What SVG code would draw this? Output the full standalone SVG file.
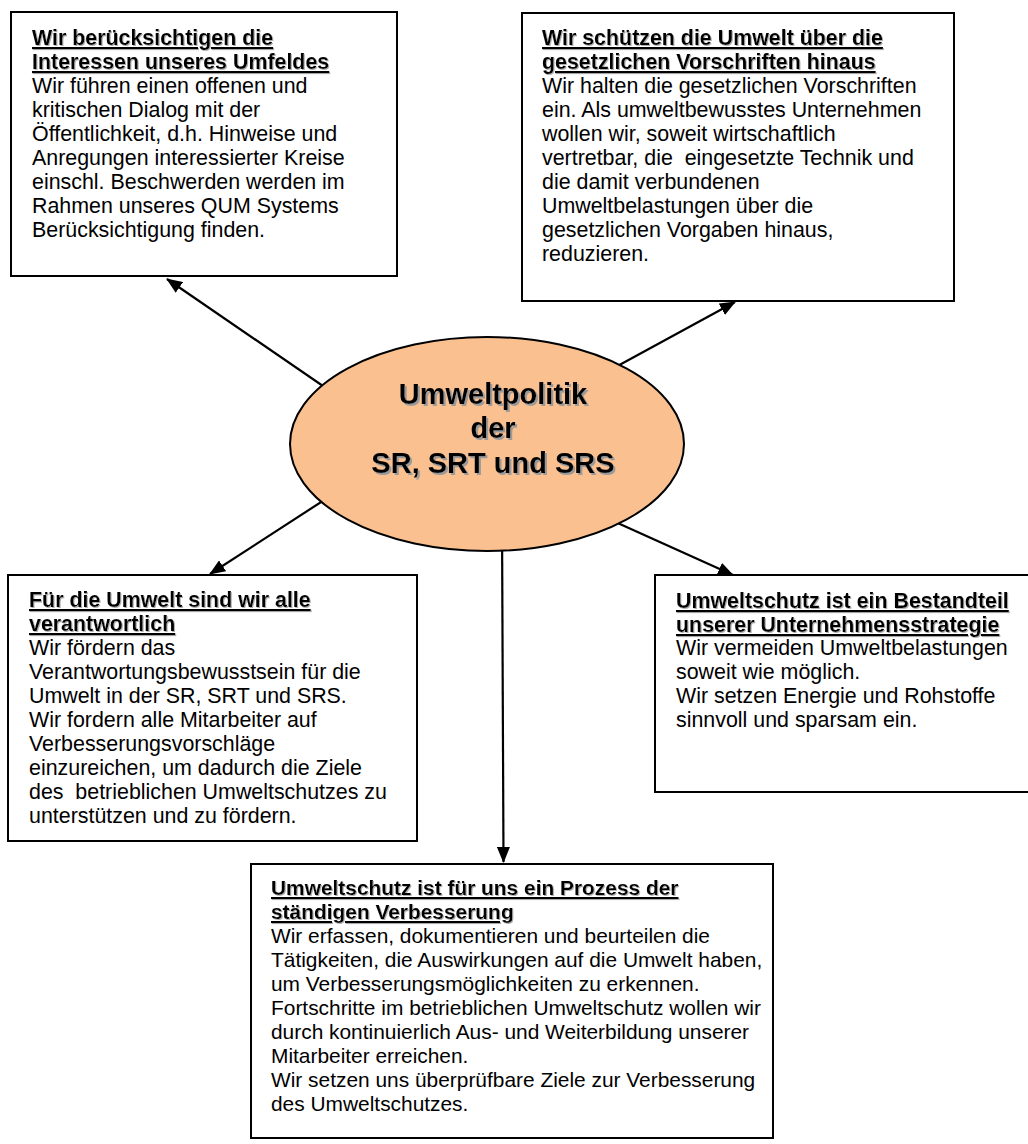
<svg xmlns="http://www.w3.org/2000/svg" width="1028" height="1144" viewBox="0 0 1028 1144">
<defs>
<style>
.box{fill:#fff;stroke:#000;stroke-width:2}
text{font-family:"Liberation Sans",Arial,Helvetica,sans-serif;font-size:21.4px;fill:#000;white-space:pre}
#box-prozess text{font-size:20.9px}
.t{font-weight:bold;text-decoration:underline;filter:url(#ts)}
.c{font-weight:bold;font-size:29px;text-anchor:middle;filter:url(#cs)}
.conn{stroke:#000;stroke-width:2.2;fill:none;marker-end:url(#ah)}
</style>
<marker id="ah" markerUnits="userSpaceOnUse" markerWidth="16" markerHeight="13" refX="15" refY="6.5" orient="auto">
<path d="M0,0 L16,6.5 L0,13 z" fill="#000"/>
</marker>
<filter id="cs" x="-10%" y="-30%" width="120%" height="160%">
<feOffset in="SourceAlpha" dx="2" dy="2" result="o"/>
<feFlood flood-color="#9a9a9a"/>
<feComposite in2="o" operator="in"/>
<feMerge><feMergeNode/><feMergeNode in="SourceGraphic"/></feMerge>
</filter>
<filter id="ts" x="-5%" y="-30%" width="110%" height="160%">
<feOffset in="SourceAlpha" dx="1.2" dy="1.2" result="o"/>
<feFlood flood-color="#b0b0b0"/>
<feComposite in2="o" operator="in"/>
<feMerge><feMergeNode/><feMergeNode in="SourceGraphic"/></feMerge>
</filter>
</defs>
<rect width="1028" height="1144" fill="#fff"/>
<g id="connectors">
<line class="conn" x1="355" y1="408" x2="167" y2="279"/>
<line class="conn" x1="590" y1="381" x2="735" y2="302"/>
<line class="conn" x1="352" y1="482" x2="210" y2="574"/>
<line class="conn" x1="591" y1="511" x2="733" y2="575"/>
<line class="conn" x1="502" y1="520" x2="503.5" y2="862"/>
</g>
<g id="center">
<ellipse cx="487" cy="444" rx="197" ry="107" fill="#FAC090" stroke="#000" stroke-width="2"/>
<text class="c" x="493" y="404">Umweltpolitik</text>
<text class="c" x="493" y="438">der</text>
<text class="c" x="493" y="473">SR, SRT und SRS</text>
</g>
<g id="box-umfeld">
<rect class="box" x="11" y="12" width="386" height="264"/>
<text class="t" x="32" y="45">Wir berücksichtigen die</text>
<text class="t" x="32" y="69">Interessen unseres Umfeldes</text>
<text x="32" y="93">Wir führen einen offenen und</text>
<text x="32" y="117">kritischen Dialog mit der</text>
<text x="32" y="141">Öffentlichkeit, d.h. Hinweise und</text>
<text x="32" y="165">Anregungen interessierter Kreise</text>
<text x="32" y="189">einschl. Beschwerden werden im</text>
<text x="32" y="213">Rahmen unseres QUM Systems</text>
<text x="32" y="237">Berücksichtigung finden.</text>
</g>
<g id="box-vorschriften">
<rect class="box" x="522" y="13" width="432" height="288"/>
<text class="t" x="542" y="45">Wir schützen die Umwelt über die</text>
<text class="t" x="542" y="69">gesetzlichen Vorschriften hinaus</text>
<text x="542" y="93">Wir halten die gesetzlichen Vorschriften</text>
<text x="542" y="117">ein. Als umweltbewusstes Unternehmen</text>
<text x="542" y="141">wollen wir, soweit wirtschaftlich</text>
<text x="542" y="165">vertretbar, die  eingesetzte Technik und</text>
<text x="542" y="189">die damit verbundenen</text>
<text x="542" y="213">Umweltbelastungen über die</text>
<text x="542" y="237">gesetzlichen Vorgaben hinaus,</text>
<text x="542" y="261">reduzieren.</text>
</g>
<g id="box-verantwortlich">
<rect class="box" x="8" y="575" width="409" height="266"/>
<text class="t" x="29" y="607">Für die Umwelt sind wir alle</text>
<text class="t" x="29" y="631">verantwortlich</text>
<text x="29" y="655">Wir fördern das</text>
<text x="29" y="679">Verantwortungsbewusstsein für die</text>
<text x="29" y="703">Umwelt in der SR, SRT und SRS.</text>
<text x="29" y="727">Wir fordern alle Mitarbeiter auf</text>
<text x="29" y="751">Verbesserungsvorschläge</text>
<text x="29" y="775">einzureichen, um dadurch die Ziele</text>
<text x="29" y="799">des  betrieblichen Umweltschutzes zu</text>
<text x="29" y="823">unterstützen und zu fördern.</text>
</g>
<g id="box-strategie">
<rect class="box" x="655" y="575" width="380" height="217"/>
<text class="t" x="676" y="608">Umweltschutz ist ein Bestandteil</text>
<text class="t" x="676" y="632">unserer Unternehmensstrategie</text>
<text x="676" y="655">Wir vermeiden Umweltbelastungen</text>
<text x="676" y="679">soweit wie möglich.</text>
<text x="676" y="703">Wir setzen Energie und Rohstoffe</text>
<text x="676" y="727">sinnvoll und sparsam ein.</text>
</g>
<g id="box-prozess">
<rect class="box" x="251" y="864" width="522" height="274"/>
<text class="t" x="271" y="895">Umweltschutz ist für uns ein Prozess der</text>
<text class="t" x="271" y="919">ständigen Verbesserung</text>
<text x="271" y="943">Wir erfassen, dokumentieren und beurteilen die</text>
<text x="271" y="967">Tätigkeiten, die Auswirkungen auf die Umwelt haben,</text>
<text x="271" y="991">um Verbesserungsmöglichkeiten zu erkennen.</text>
<text x="271" y="1015">Fortschritte im betrieblichen Umweltschutz wollen wir</text>
<text x="271" y="1039">durch kontinuierlich Aus- und Weiterbildung unserer</text>
<text x="271" y="1063">Mitarbeiter erreichen.</text>
<text x="271" y="1087">Wir setzen uns überprüfbare Ziele zur Verbesserung</text>
<text x="271" y="1111">des Umweltschutzes.</text>
</g>
</svg>
